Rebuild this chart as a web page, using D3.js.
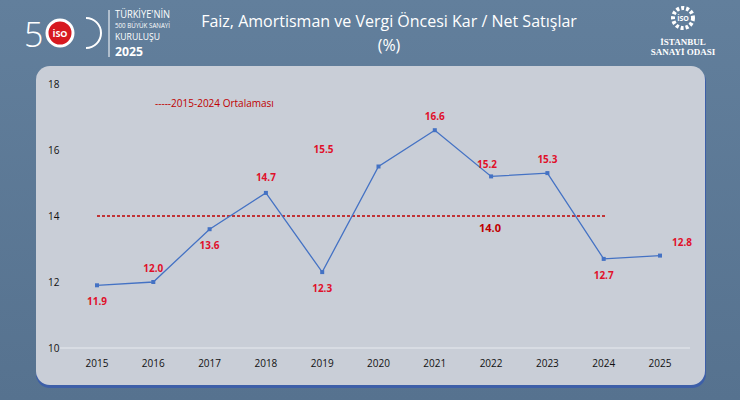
<!DOCTYPE html>
<html>
<head>
<meta charset="utf-8">
<script src="https://cdn.jsdelivr.net/npm/d3@7"></script>
<style>
 body{margin:0;background:#5a7896;}
 svg{display:block;font-family:"Open Sans",sans-serif;}
</style>
</head>
<body>
<svg id="chart" width="740" height="400"></svg>
<script>
var years = [2015,2016,2017,2018,2019,2020,2021,2022,2023,2024,2025];
var values = [11.9,12.0,13.6,14.7,12.3,15.5,16.6,15.2,15.3,12.7,12.8];
var average = 14.0;
var yTicks = [10,12,14,16,18];
// label offsets [dx, dy] per point
var labelPos = [[0,20],[0,-10],[0,20],[0,-12],[0,20],[-55,-14],[0,-10],[-4,-8],[0,-10],[0,20],[22,-10]];

var svg = d3.select("#chart");
var bg = svg.append("defs").append("linearGradient").attr("id","bg").attr("x1",0).attr("y1",0).attr("x2",0).attr("y2",1);
bg.append("stop").attr("offset","0").attr("stop-color","#627f9c");
bg.append("stop").attr("offset","1").attr("stop-color","#56728f");
svg.append("rect").attr("width",740).attr("height",400).attr("fill","url(#bg)");

// header
svg.append("text").attr("x",389).attr("y",27).attr("text-anchor","middle").attr("fill","#fff")
  .attr("font-size",16).text("Faiz, Amortisman ve Vergi Öncesi Kar  / Net Satışlar");
svg.append("text").attr("x",389).attr("y",51).attr("text-anchor","middle").attr("fill","#fff")
  .attr("font-size",16).text("(%)");
// left logo
svg.append("text").attr("x",24).attr("y",47).attr("fill","#fff").attr("font-size",34).attr("font-weight",300).text("5");
svg.append("circle").attr("cx",60).attr("cy",33).attr("r",13).attr("fill","#d71920").attr("stroke","#fff").attr("stroke-width",3);
svg.append("text").attr("x",60).attr("y",37).attr("text-anchor","middle").attr("fill","#fff").attr("font-size",9).attr("font-weight","bold").text("İSO");
svg.append("path").attr("d","M86,18 A15,15 0 0 1 86,48").attr("fill","none").attr("stroke","#fff").attr("stroke-width",2);
svg.append("line").attr("x1",109).attr("x2",109).attr("y1",10).attr("y2",57).attr("stroke","#fff");
[["TÜRKİYE'NİN",18,10,"normal",55],["500 BÜYÜK SANAYİ",28,7,"normal",55],["KURULUŞU",40,9,"normal",45],["2025",56,12,"bold",28]].forEach(function(t){
  svg.append("text").attr("x",115).attr("y",t[1]).attr("fill","#fff").attr("font-size",t[2]).attr("font-weight",t[3])
    .attr("textLength",t[4]).attr("lengthAdjust","spacingAndGlyphs").text(t[0]);
});
// right logo
svg.append("circle").attr("cx",683).attr("cy",18).attr("r",10).attr("fill","none").attr("stroke","#fff").attr("stroke-width",4).attr("stroke-dasharray","3 2");
svg.append("text").attr("x",683).attr("y",21).attr("text-anchor","middle").attr("fill","#fff").attr("font-size",7).attr("font-weight","bold").text("İSO");
svg.append("text").attr("x",683).attr("y",45).attr("text-anchor","middle").attr("fill","#fff").attr("font-size",9).attr("font-weight","bold").attr("font-family","'Liberation Serif',serif").text("İSTANBUL");
svg.append("text").attr("x",683).attr("y",55).attr("text-anchor","middle").attr("fill","#fff").attr("font-size",9).attr("font-weight","bold").attr("font-family","'Liberation Serif',serif").text("SANAYİ ODASI");

// panel
svg.append("rect").attr("x",36).attr("y",68).attr("width",670).attr("height",320).attr("rx",14).attr("fill","#3d5fa8");
svg.append("rect").attr("x",36).attr("y",66).attr("width",669).attr("height",319).attr("rx",14).attr("fill","#c9ced7");

var x = d3.scalePoint().domain(years).range([97,660]);
var y = d3.scaleLinear().domain([10,18]).range([348,84]);

var g = svg.append("g");
g.append("line").attr("x1",60).attr("x2",690).attr("y1",y(10)).attr("y2",y(10)).attr("stroke","#dde1e7").attr("stroke-width",1.5);
yTicks.forEach(function(t){
  g.append("text").attr("x",48).attr("y",y(t)+4).attr("font-size",10).attr("fill","#111").text(t);
});
years.forEach(function(yr){
  g.append("text").attr("x",x(yr)).attr("y",367).attr("text-anchor","middle").attr("font-size",10).attr("fill","#111").text(yr);
});

// average
g.append("line").attr("x1",x(2015)).attr("x2",605).attr("y1",y(average)).attr("y2",y(average))
  .attr("stroke","#c00000").attr("stroke-width",1.3).attr("stroke-dasharray","3 2");
g.append("text").attr("x",490).attr("y",y(average)+16).attr("text-anchor","middle").attr("fill","#c00000")
  .attr("font-size",11).attr("font-weight","bold").text(average.toFixed(1));
g.append("text").attr("x",155).attr("y",107).attr("fill","#c00000").attr("font-size",10).text("-----2015-2024 Ortalaması");

var line = d3.line().x(function(d,i){return x(years[i]);}).y(function(d){return y(d);});
g.append("path").datum(values).attr("d",line).attr("fill","none").attr("stroke","#4472c4").attr("stroke-width",1.3);
g.selectAll(".pt").data(values).enter().append("rect")
  .attr("x",function(d,i){return x(years[i])-2;}).attr("y",function(d){return y(d)-2;})
  .attr("width",4).attr("height",4).attr("fill","#4472c4");
g.selectAll(".lb").data(values).enter().append("text")
  .attr("x",function(d,i){return x(years[i])+labelPos[i][0];})
  .attr("y",function(d,i){return y(d)+labelPos[i][1];})
  .attr("text-anchor","middle")
  .attr("font-size",10).attr("font-weight","bold").attr("fill","#e0102a")
  .text(function(d){return d.toFixed(1);});
</script>
</body>
</html>
